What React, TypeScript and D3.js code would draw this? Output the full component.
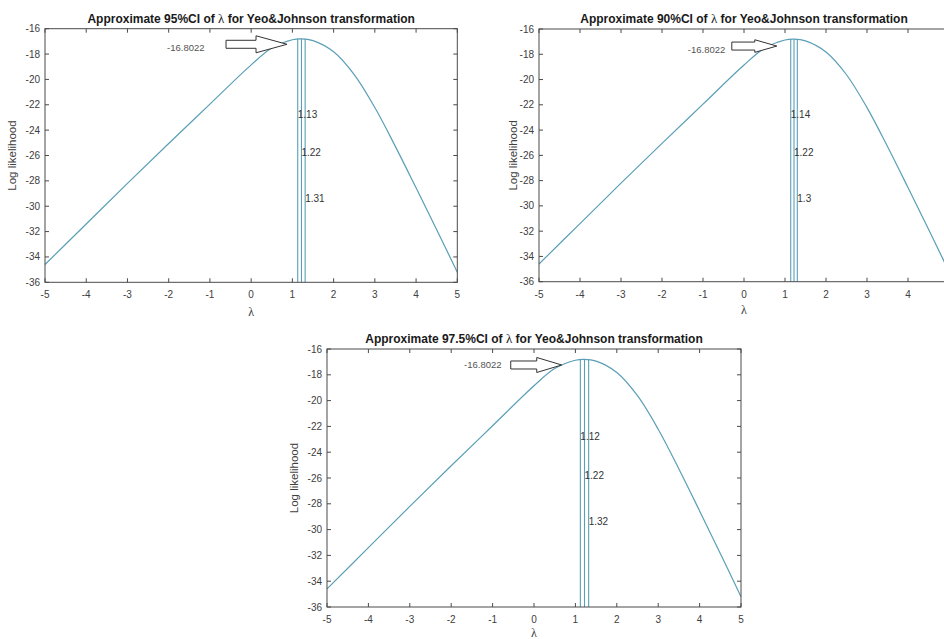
import React from "react";
import * as d3 from "d3";

// log-likelihood profile
const lambdas = [-5, -4, -3, -2, -1, 0, 0.5, 1, 1.22, 1.5, 2, 2.5, 3, 3.5, 4, 4.5, 5];
const logLik = [
	-34.6, -31.4, -28.2, -25.05, -21.95, -18.85, -17.52, -16.87, -16.8022, -16.94,
	-17.82, -19.62, -22.22, -25.3, -28.55, -31.85, -35.2,
];
const maxLogLik = -16.8022;

const xTicks = [-5, -4, -3, -2, -1, 0, 1, 2, 3, 4, 5];
const yTicks = [-16, -18, -20, -22, -24, -26, -28, -30, -32, -34, -36];

const levels = ["95%", "90%", "97.5%"];
const ciLower = [1.13, 1.14, 1.12];
const ciMid = [1.22, 1.22, 1.22];
const ciUpper = [1.31, 1.3, 1.32];
const ciLabelY = [-22.8, -25.8, -29.4];

// annotation "-16.8022" with block arrow, in data units
const arrowTipX = [0.87, 0.8, 0.67];
const arrowTipY = [-17.23, -17.35, -17.24];
const noteX = [-2.04, -1.37, -1.69];
const noteY = [-17.47, -17.6, -17.24];

// panel placement in the page
const W = 944;
const H = 639;
const layout = [
	{ left: 45, top: 28.7, width: 412.3, height: 253.6, ylab: 29, xlab: 34, arrow: [61, 31, 4, 8.5] },
	{ left: 539, top: 29, width: 410, height: 252.7, ylab: 22, xlab: 32, arrow: [45, 22, 4, 6.3] },
	{ left: 327, top: 349, width: 414, height: 258, ylab: 29, xlab: 29.5, arrow: [51, 25, 4, 7.5] },
];

const FONT = "'Liberation Sans', Arial, Helvetica, sans-serif";
const SERIF = "'Liberation Serif', 'DejaVu Serif', serif";
const AXIS = "#4a4a4a";
const LINE = "#5a9fb6";

const Panel = ({ i }: { i: number }) => {
	const p = layout[i];
	const x = d3.scaleLinear().domain([-5, 5]).range([p.left, p.left + p.width]);
	const y = d3.scaleLinear().domain([-36, -16]).range([p.top + p.height, p.top]);
	const line = d3
		.line<number>()
		.x((_, k) => x(lambdas[k]))
		.y((d) => y(d))
		.curve(d3.curveCatmullRom.alpha(0.5));

	const bottom = p.top + p.height;
	const right = p.left + p.width;
	const tk = 4;

	const [L, Hd, h1, h2] = p.arrow;
	const tx = x(arrowTipX[i]);
	const ty = y(arrowTipY[i]);
	const arrowPath = `M${tx - L},${ty - h1}L${tx - Hd},${ty - h1}L${tx - Hd},${ty - h2}L${tx},${ty}L${tx - Hd},${ty + h2}L${tx - Hd},${ty + h1}L${tx - L},${ty + h1}Z`;

	const ci = [ciLower[i], ciMid[i], ciUpper[i]];

	return (
		<g fontFamily={FONT}>
			<text
				x={p.left + p.width / 2}
				y={p.top - 6}
				textAnchor="middle"
				fontSize={12}
				fontWeight="bold"
				fill="#1a1a1a">
				{`Approximate ${levels[i]}CI of `}
				<tspan fontFamily={SERIF} fontWeight="normal" fontSize={13}>
					λ
				</tspan>
				{" for Yeo&Johnson transformation"}
			</text>

			<path d={line(logLik) ?? ""} fill="none" stroke={LINE} strokeWidth={1.2} />

			{ci.map((c, k) => (
				<line
					key={k}
					x1={x(c)}
					x2={x(c)}
					y1={bottom}
					y2={y(maxLogLik)}
					stroke={LINE}
					strokeWidth={1.1}
				/>
			))}
			{ci.map((c, k) => (
				<text
					key={"t" + k}
					x={x(c)}
					y={y(ciLabelY[k])}
					dy="0.35em"
					fontSize={10}
					fill="#333">
					{c}
				</text>
			))}

			<path d={arrowPath} fill="#fff" stroke="#333" strokeWidth={1} />
			<text x={x(noteX[i])} y={y(noteY[i])} dy="0.35em" fontSize={9.5} fill="#555">
				{maxLogLik}
			</text>

			<rect x={p.left} y={p.top} width={p.width} height={p.height} fill="none" stroke={AXIS} strokeWidth={1} />
			{xTicks.map((t) => (
				<g key={"x" + t}>
					<line x1={x(t)} x2={x(t)} y1={bottom} y2={bottom - tk} stroke={AXIS} />
					<line x1={x(t)} x2={x(t)} y1={p.top} y2={p.top + tk} stroke={AXIS} />
					{x(t) < W - 4 && (
						<text x={x(t)} y={bottom + 16} textAnchor="middle" fontSize={10} fill="#404040">
							{t}
						</text>
					)}
				</g>
			))}
			{yTicks.map((t) => (
				<g key={"y" + t}>
					<line x1={p.left} x2={p.left + tk} y1={y(t)} y2={y(t)} stroke={AXIS} />
					<line x1={right} x2={right - tk} y1={y(t)} y2={y(t)} stroke={AXIS} />
					<text x={p.left - 5} y={y(t)} dy="0.35em" textAnchor="end" fontSize={10} fill="#404040">
						{t}
					</text>
				</g>
			))}

			<text
				x={p.left + p.width / 2}
				y={bottom + p.xlab}
				textAnchor="middle"
				fontSize={12}
				fontFamily={SERIF}
				fill="#404040">
				λ
			</text>
			<text
				transform={`translate(${p.left - p.ylab},${p.top + p.height / 2}) rotate(-90)`}
				textAnchor="middle"
				fontSize={11.5}
				fill="#404040">
				Log likelihood
			</text>
		</g>
	);
};

const App = () => {
	return (
		<svg
			width={W}
			height={H}
			style={{ position: "absolute", left: 0, top: 0, background: "#fff" }}>
			{layout.map((_, i) => (
				<Panel key={i} i={i} />
			))}
		</svg>
	);
};

export default App;
